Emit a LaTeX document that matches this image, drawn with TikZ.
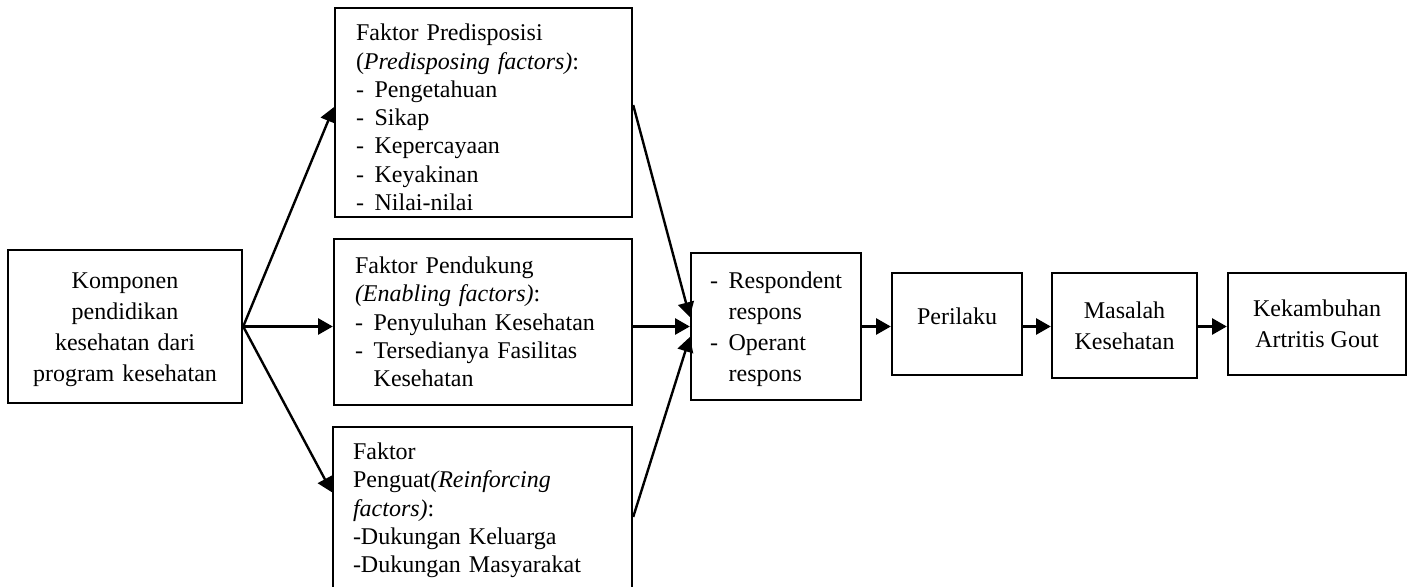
\documentclass[tikz,border=0pt]{standalone}
\usepackage{fontspec}
\setmainfont{Liberation Serif}
\usetikzlibrary{arrows.meta}
\newcommand\hd{\makebox[14pt][l]{-}}
\begin{document}
\begin{tikzpicture}[x=0.75pt,y=-0.75pt,
  every node/.style={draw=black,line width=1.8pt,inner ysep=0pt},
  bigfont/.style={font={\fontsize{18pt}{23.25pt}\selectfont}},
  facfont/.style={font={\fontsize{18pt}{21.2pt}\selectfont}},
  cbox/.style={bigfont,align=center,inner xsep=0pt},
  fbox/.style={facfont,align=left},
  arr/.style={line width=1.8pt,-{Triangle[length=11pt,width=12pt]}}]
\useasboundingbox (0,0) rectangle (1409,586);
\clip (0,0) rectangle (1409,586);

\node[cbox,minimum width=175.5pt,minimum height=114.75pt,text width=165pt] (A) at (125,326.5)
  {\rule{0pt}{16.5pt}Komponen\\pendidikan\\kesehatan dari\\program kesehatan};

\node[fbox,minimum width=222.75pt,minimum height=156.75pt,inner xsep=15.75pt,text width=191.25pt] (P) at (483.5,112.5)
  {\rule{0pt}{20pt}Faktor Predisposisi\\(\textit{Predisposing factors)}:\\\hd Pengetahuan\\\hd Sikap\\\hd Kepercayaan\\\hd Keyakinan\\\hd Nilai-nilai};

\node[fbox,minimum width=223.5pt,minimum height=124.5pt,inner xsep=15.75pt,text width=192pt] (E) at (483,322)
  {Faktor Pendukung\\\textit{(Enabling factors)}:\\\hd Penyuluhan Kesehatan\\\hd Tersedianya Fasilitas\\\hspace*{14pt}Kesehatan};

\node[fbox,minimum width=224.25pt,minimum height=123.75pt,inner xsep=15pt,text width=194.25pt] (R) at (482.5,509.5)
  {\rule{0pt}{14pt}Faktor\\Penguat\textit{(Reinforcing}\\\textit{factors)}:\\-Dukungan Keluarga\\-Dukungan Masyarakat};

\node[bigfont,align=left,minimum width=127.5pt,minimum height=110.25pt,inner xsep=14.25pt,text width=99pt] (S) at (776,326.5)
  {\rule{0pt}{16.8pt}\hd Respondent\\\hspace*{14pt}respons\\\hd Operant\\\hspace*{14pt}respons};

\node[cbox,minimum width=97.5pt,minimum height=76.5pt] (B) at (957,324) {Perilaku\rule[-12pt]{0pt}{1pt}};
\node[cbox,minimum width=108.75pt,minimum height=78.75pt] (M) at (1124.5,325.5) {Masalah\\Kesehatan};
\node[cbox,minimum width=133.5pt,minimum height=76.5pt] (K) at (1317,324) {Kekambuhan\\Artritis Gout};

\draw[arr] (A.east) -- ([yshift=4pt]P.west);
\draw[arr] (A.east) -- (A.east -| E.west);
\draw[arr] (A.east) -- ([yshift=13pt]R.west);

\draw[arr] ([yshift=5.6pt]P.east) -- ([yshift=7.1pt]S.west);
\draw[arr] (S.west -| E.east) -- (S.west);
\draw[arr] ([yshift=-5.6pt]R.east) -- ([yshift=-7.9pt]S.west);

\draw[arr] (S.east) -- (S.east -| B.west);
\draw[arr] (B.east |- S.east) -- (M.west |- S.east);
\draw[arr] (M.east |- S.east) -- (K.west |- S.east);
\end{tikzpicture}
\end{document}
